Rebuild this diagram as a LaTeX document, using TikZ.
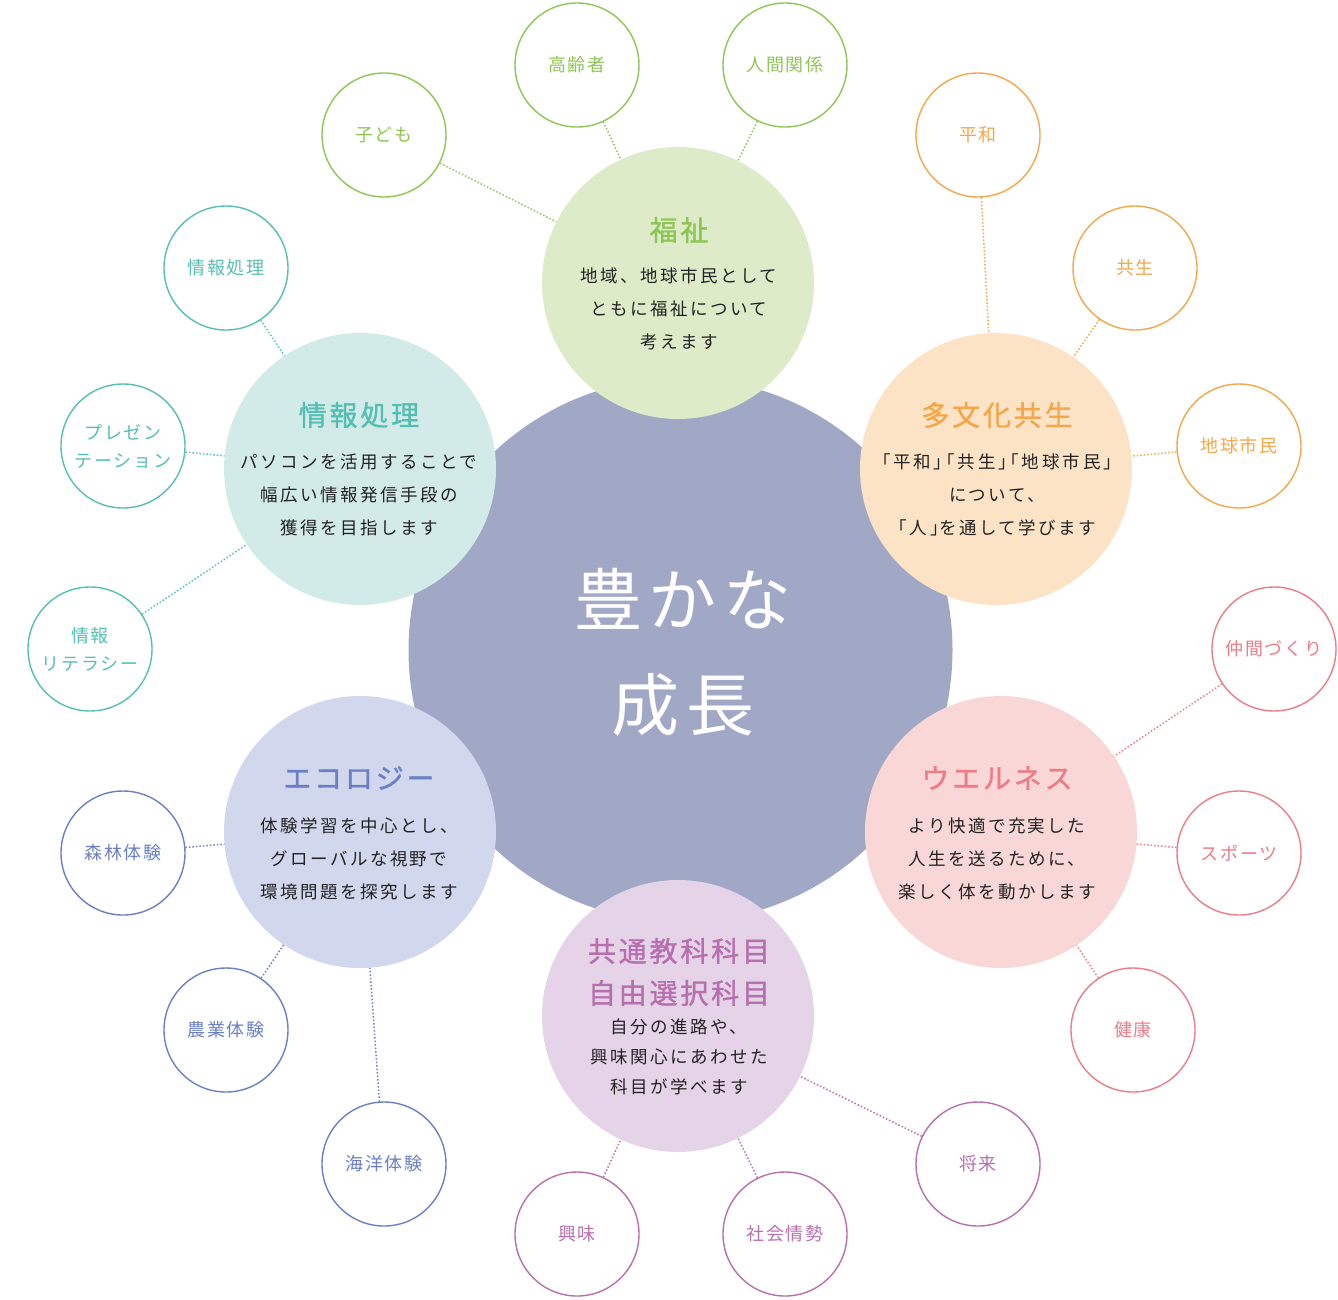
\documentclass[tikz,border=0pt]{standalone}
\usepackage{fontspec}
\setmainfont{Noto Sans CJK JP}
\newfontfamily\bodyfont[LetterSpace=14]{Noto Sans CJK JP}
\newfontfamily\bodypalt[LetterSpace=17,RawFeature=+palt]{Noto Sans CJK JP}
\newfontfamily\smallfont[LetterSpace=10]{Noto Sans CJK JP}
\newfontfamily\titlefont[LetterSpace=10,FakeBold=1.2]{Noto Sans CJK JP}
\newfontfamily\bigfont[LetterSpace=10]{Noto Sans CJK JP}
\definecolor{maincol}{HTML}{A1A8C6}
\definecolor{gfill}{HTML}{DDEBC8}\definecolor{gline}{HTML}{8DC655}
\definecolor{tfill}{HTML}{D3EBE8}\definecolor{tline}{HTML}{55BFB3}
\definecolor{ofill}{HTML}{FCE3C5}\definecolor{oline}{HTML}{F4A74A}
\definecolor{pfill}{HTML}{F9D7D7}\definecolor{pline}{HTML}{EC7C86}
\definecolor{vfill}{HTML}{E5D3E7}\definecolor{vline}{HTML}{B86FB0}
\definecolor{bfill}{HTML}{D1D7EC}\definecolor{bline}{HTML}{6B80C4}
\definecolor{bodytext}{HTML}{222222}
\tikzset{
  bigcirc/.style={circle,fill=#1,draw=none,minimum size=272pt,inner sep=0pt},
  smallcirc/.style={circle,draw=#1,fill=white,line width=1.4pt,minimum size=124pt,inner sep=0pt,
     text=#1,font=\smallfont\fontsize{18}{28}\selectfont,align=center},
  titletext/.style={text=#1,font=\titlefont\fontsize{28}{42}\selectfont,align=center,inner sep=0pt},
  bodytextst/.style={text=bodytext,font=\bodyfont\fontsize{17.5}{33}\selectfont,align=center,inner sep=0pt},
  link/.style={draw=#1,line width=1.5pt,dash pattern=on 1.5pt off 2pt},
}
\begin{document}
\begin{tikzpicture}[x=1pt,y=-1pt]
\useasboundingbox (0,0) rectangle (1338,1299);
% central circle
\node[circle,fill=maincol,minimum size=544pt,inner sep=0pt] (core) at (680.5,650) {};
\node[text=white,font=\bigfont\fontsize{68}{105}\selectfont,align=center,inner sep=0pt] (coretext) at (683,652) {豊かな\\成長};
% satellites
\node[bigcirc=gfill] (fuku) at (678,283) {};
\node[bigcirc=tfill] (joho) at (360,469) {};
\node[bigcirc=ofill] (tabun) at (996,469) {};
\node[bigcirc=bfill] (eco) at (360,832) {};
\node[bigcirc=pfill] (well) at (1001,832) {};
\node[bigcirc=vfill] (kyotsu) at (678,1016) {};
% satellite texts
\node[titletext=gline] (fukuT) at (679,230) {福祉};
\node[bodytextst] (fukuB) at (679,309) {地域、地球市民として\\ともに福祉について\\考えます};
\node[titletext=tline] (johoT) at (359,415) {情報処理};
\node[bodytextst] (johoB) at (359,495) {パソコンを活用することで\\幅広い情報発信手段の\\獲得を目指します};
\node[titletext=oline] (tabunT) at (997,415) {多文化共生};
\node[bodytextst] (tabunB) at (997,495) {{\bodypalt 「平和」「共生」「地球市民」}\\について、\\{\bodypalt 「人」}を通して学びます};
\node[titletext=bline] (ecoT) at (359,778) {エコロジー};
\node[bodytextst] (ecoB) at (359,859) {体験学習を中心とし、\\グローバルな視野で\\環境問題を探究します};
\node[titletext=pline] (wellT) at (997,778) {ウエルネス};
\node[bodytextst] (wellB) at (997,859) {より快適で充実した\\人生を送るために、\\楽しく体を動かします};
\node[titletext=vline] (kyotsuT) at (679,972) {共通教科科目\\自由選択科目};
\node[bodytextst,font=\bodyfont\fontsize{17.5}{30}\selectfont] (kyotsuB) at (679,1057) {自分の進路や、\\興味関心にあわせた\\科目が学べます};
% small circles
\node[smallcirc=gline] (kodomo) at (384,135) {子ども};
\node[smallcirc=gline] (koreisha) at (577,65) {高齢者};
\node[smallcirc=gline] (ningen) at (785,65) {人間関係};
\node[smallcirc=oline] (heiwa) at (978,135) {平和};
\node[smallcirc=oline] (kyosei) at (1135,268) {共生};
\node[smallcirc=oline] (chikyu) at (1239,446) {地球市民};
\node[smallcirc=pline] (nakama) at (1274,649) {仲間づくり};
\node[smallcirc=pline] (sports) at (1239,853) {スポーツ};
\node[smallcirc=pline] (kenko) at (1133,1030) {健康};
\node[smallcirc=vline] (shorai) at (978,1164) {将来};
\node[smallcirc=vline] (shakai) at (785,1234) {社会情勢};
\node[smallcirc=vline] (kyomi) at (577,1234) {興味};
\node[smallcirc=bline] (kaiyo) at (384,1164) {海洋体験};
\node[smallcirc=bline] (nogyo) at (226,1030) {農業体験};
\node[smallcirc=bline] (shinrin) at (123,853) {森林体験};
\node[smallcirc=tline] (literacy) at (90,649) {情報\\リテラシー};
\node[smallcirc=tline] (present) at (123,446) {プレゼン\\テーション};
\node[smallcirc=tline] (johoS) at (226,268) {情報処理};
% links
\draw[link=gline] (kodomo) -- (fuku);
\draw[link=gline] (koreisha) -- (fuku);
\draw[link=gline] (ningen) -- (fuku);
\draw[link=oline] (heiwa) -- (tabun);
\draw[link=oline] (kyosei) -- (tabun);
\draw[link=oline] (chikyu) -- (tabun);
\draw[link=pline] (nakama) -- (well);
\draw[link=pline] (sports) -- (well);
\draw[link=pline] (kenko) -- (well);
\draw[link=vline] (shorai) -- (kyotsu);
\draw[link=vline] (shakai) -- (kyotsu);
\draw[link=vline] (kyomi) -- (kyotsu);
\draw[link=bline] (kaiyo) -- (eco);
\draw[link=bline] (nogyo) -- (eco);
\draw[link=bline] (shinrin) -- (eco);
\draw[link=tline] (literacy) -- (joho);
\draw[link=tline] (present) -- (joho);
\draw[link=tline] (johoS) -- (joho);
\end{tikzpicture}
\end{document}
